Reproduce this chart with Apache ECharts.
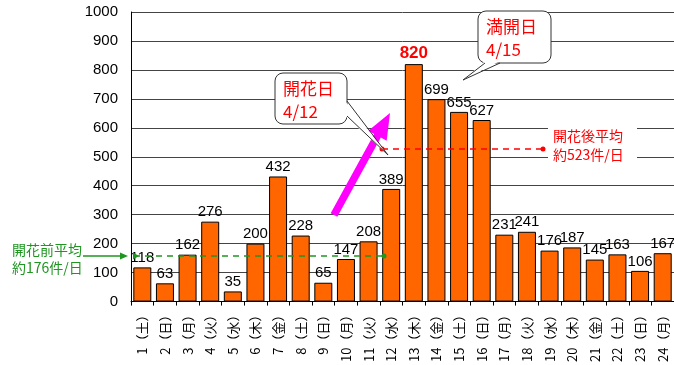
<!DOCTYPE html>
<html>
<head>
<meta charset="utf-8">
<script src="https://cdn.jsdelivr.net/npm/echarts@6/dist/echarts.min.js"></script>
<style>
html,body{margin:0;padding:0;background:#fff;overflow:hidden;}
#main{width:674px;height:365px;}
</style>
</head>
<body>
<div id="main"></div>
<script>
var categories = ['1（土）','2（日）','3（月）','4（火）','5（水）','6（木）','7（金）','8（土）','9（日）','10（月）','11（火）','12（水）','13（木）','14（金）','15（土）','16（日）','17（月）','18（火）','19（水）','20（木）','21（金）','22（土）','23（日）','24（月）'];
var counts = [118,63,162,276,35,200,432,228,65,147,208,389,820,699,655,627,231,241,176,187,145,163,106,167];
var yTicks = {min:0, max:1000, interval:100};
var peakIndex = 12;

var chart = echarts.init(document.getElementById('main'), null, {renderer:'canvas'});

var seriesData = counts.map(function(v,i){
  if(i === peakIndex){
    return {value:v, label:{color:'#ff0000', fontWeight:'bold', fontSize:17}};
  }
  return v;
});

function arrowPoly(x0,y0,x1,y1,hw,headLen,headHw){
  var dx=x1-x0, dy=y1-y0, L=Math.sqrt(dx*dx+dy*dy);
  var ux=dx/L, uy=dy/L, nx=-uy, ny=ux;
  var bx=x1-ux*headLen, by=y1-uy*headLen;
  return [
    [x0+nx*hw,y0+ny*hw],[bx+nx*hw,by+ny*hw],[bx+nx*headHw,by+ny*headHw],[x1,y1],
    [bx-nx*headHw,by-ny*headHw],[bx-nx*hw,by-ny*hw],[x0-nx*hw,y0-ny*hw]
  ];
}

var cjk = '"Noto Sans CJK JP", sans-serif';
var num = '"Liberation Sans", Arial, sans-serif';

var option = {
  animation:false,
  backgroundColor:'#fff',
  grid:{left:131, top:12, width:546, height:291, containLabel:false},
  xAxis:{
    type:'category',
    data:categories,
    axisLine:{lineStyle:{color:'#000', width:1}},
    axisTick:{show:true, length:4, lineStyle:{color:'#000'}},
    axisLabel:{rotate:90, margin:7, fontSize:13, color:'#000', fontFamily:cjk, interval:0}
  },
  yAxis:{
    type:'value',
    min:yTicks.min, max:yTicks.max, interval:yTicks.interval,
    axisLine:{show:true, lineStyle:{color:'#000', width:1}},
    axisTick:{show:false},
    axisLabel:{fontSize:15, color:'#000', margin:13, fontFamily:num, formatter:function(v){return String(v);}},
    splitLine:{lineStyle:{color:'#444', width:1}}
  },
  series:[{
    type:'bar',
    data:seriesData,
    barWidth:18,
    itemStyle:{color:'#ff6600', borderColor:'#000', borderWidth:1},
    label:{show:true, position:'top', distance:2, fontSize:15, color:'#000', fontFamily:num}
  }]
};

chart.setOption(option);

var g = [];
var Z = 100;
g.push({type:'text', z:Z, left:12, top:241, style:{text:'開花前平均\n約176件/日', fill:'#1e9620', font:'14px '+cjk, lineHeight:18}});
g.push({type:'line', z:Z, shape:{x1:83,y1:256,x2:122,y2:256}, style:{stroke:'#1e9620', lineWidth:1.5}});
g.push({type:'polygon', z:Z, shape:{points:[[128,256],[120,252.5],[120,259.5]]}, style:{fill:'#1e9620'}});
g.push({type:'line', z:Z, shape:{x1:134,y1:256,x2:384,y2:256}, style:{stroke:'#1e9620', lineWidth:1.5, lineDash:[6,5]}});
g.push({type:'polygon', z:Z, shape:{points:[[139,256],[133,252.5],[133,259.5]]}, style:{fill:'#1e9620'}});
g.push({type:'circle', z:Z, shape:{cx:384,cy:256,r:2.5}, style:{fill:'#1e9620'}});

g.push({type:'rect', z:Z, shape:{x:548,y:123,width:89,height:44}, style:{fill:'#fff'}});
g.push({type:'text', z:Z+1, left:553, top:126, style:{text:'開花後平均\n約523件/日', fill:'#ff0000', font:'14px '+cjk, lineHeight:19}});
g.push({type:'line', z:Z, shape:{x1:382,y1:149,x2:543,y2:149}, style:{stroke:'#ff0000', lineWidth:1.5, lineDash:[6,5]}});
g.push({type:'circle', z:Z, shape:{cx:382,cy:149,r:2.5}, style:{fill:'#ff0000'}});
g.push({type:'circle', z:Z, shape:{cx:543,cy:149,r:2.5}, style:{fill:'#ff0000'}});

g.push({type:'polygon', z:Z, shape:{points:arrowPoly(334,215,390,113,3.8,26,10.5)}, style:{fill:'#ff00ff'}});

g.push({type:'rect', z:Z, shape:{x:275,y:73,width:72,height:51,r:8}, style:{fill:'#fff', stroke:'#333', lineWidth:1}});
g.push({type:'polygon', z:Z+1, shape:{points:[[345,101],[388,155],[345,116]]}, style:{fill:'#fff'}});
g.push({type:'polyline', z:Z+2, shape:{points:[[347,101],[388,155],[347,116]]}, style:{stroke:'#333', lineWidth:1, fill:null}});
g.push({type:'text', z:Z+3, left:283, top:77, style:{text:'開花日\n4/12', fill:'#ff0000', font:'17px '+cjk, lineHeight:23}});

g.push({type:'rect', z:Z, shape:{x:478,y:11,width:73,height:52,r:8}, style:{fill:'#fff', stroke:'#333', lineWidth:1}});
g.push({type:'polygon', z:Z+1, shape:{points:[[485,61],[463,80],[500,61]]}, style:{fill:'#fff'}});
g.push({type:'polyline', z:Z+2, shape:{points:[[485,63],[463,80],[500,63]]}, style:{stroke:'#333', lineWidth:1, fill:null}});
g.push({type:'text', z:Z+3, left:486, top:15, style:{text:'満開日\n4/15', fill:'#ff0000', font:'17px '+cjk, lineHeight:23}});

chart.setOption({graphic:g});
</script>
</body>
</html>
